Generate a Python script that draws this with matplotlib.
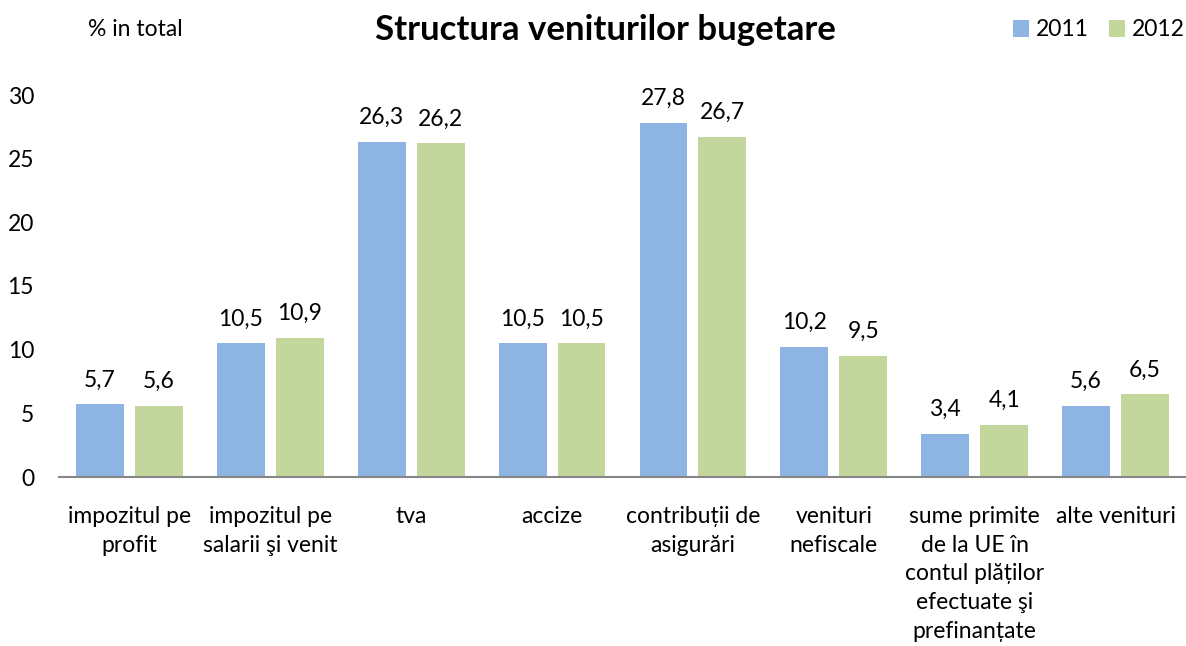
import matplotlib
matplotlib.use("Agg")
import matplotlib.pyplot as plt
import numpy as np

categories = ["impozitul pe\nprofit", "impozitul pe\nsalarii şi venit", "tva", "accize",
              "contribuții de\nasigurări", "venituri\nnefiscale",
              "sume primite\nde la UE în\ncontul plăților\nefectuate şi\nprefinanțate",
              "alte venituri"]
v2011 = [5.7, 10.5, 26.3, 10.5, 27.8, 10.2, 3.4, 5.6]
v2012 = [5.6, 10.9, 26.2, 10.5, 26.7, 9.5, 4.1, 6.5]
series_names = ["2011", "2012"]
yticks = [0, 5, 10, 15, 20, 25, 30]

plt.rcParams['font.family'] = ['Lato', 'DejaVu Sans']
FS = 16.5

fig = plt.figure(figsize=(11.86, 6.46), dpi=100)
ax = fig.add_axes([59/1186, 169/646, 1 - 59/1186, (477-95)/646])

x = np.arange(len(categories))
w = 0.34
off = 0.039 + w/2
c1, c2 = "#8EB4E3", "#C3D69B"
b1 = ax.bar(x - off, v2011, w, color=c1, label=series_names[0])
b2 = ax.bar(x + off, v2012, w, color=c2, label=series_names[1])

fmt = lambda v: f"{v:.1f}".replace('.', ',')
ax.bar_label(b1, labels=[fmt(v) for v in v2011], padding=10, fontsize=FS)
ax.bar_label(b2, labels=[fmt(v) for v in v2012], padding=10, fontsize=FS)

ax.set_xlim(-0.5, len(categories) - 0.5)
ax.set_ylim(0, 30)
ax.set_yticks(yticks)
ax.set_yticklabels([str(t) for t in yticks], fontsize=FS)
ax.set_xticks(x)
ax.set_xticklabels(categories, fontsize=FS, linespacing=1.45, va='top')
ax.tick_params(axis='both', length=0)
ax.tick_params(axis='y', pad=18)
ax.tick_params(axis='x', pad=21)
for s in ['top', 'right', 'left']:
    ax.spines[s].set_visible(False)
ax.spines['bottom'].set_color('#868686')
ax.spines['bottom'].set_linewidth(1.5)

fig.text(605/1186, 1 - 30/646, "Structura veniturilor bugetare", ha='center', va='center',
         fontsize=25, fontweight='bold')
fig.text(88/1186, 1 - 30/646, "% in total", ha='left', va='center', fontsize=FS)

leg = fig.legend(handles=[b1, b2], loc='center right', bbox_to_anchor=(0.999, 1 - 30/646),
                 ncol=2, frameon=False, fontsize=FS, handlelength=0.7, handleheight=0.7,
                 handletextpad=0.3, columnspacing=0.9, borderaxespad=0, borderpad=0)

fig.savefig("out.png", dpi=100)
